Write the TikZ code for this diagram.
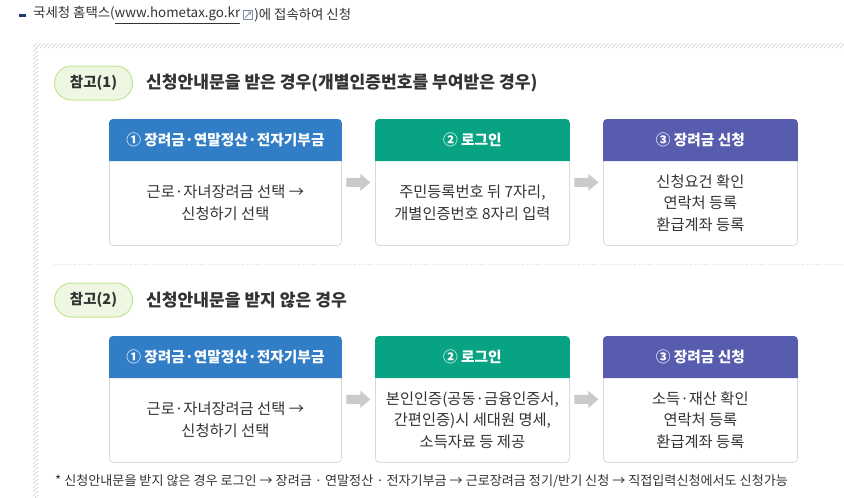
\documentclass[tikz,border=0pt]{standalone}
\usepackage{fontspec}
\setmainfont{Noto Sans CJK KR}
\usetikzlibrary{calc,arrows.meta}
\definecolor{hblue}{HTML}{317DC6}
\definecolor{hgreen}{HTML}{08A383}
\definecolor{hpurple}{HTML}{585CAF}
\definecolor{boxline}{HTML}{DADADA}
\definecolor{txt}{HTML}{333333}
\definecolor{pillfill}{HTML}{EEF7E2}
\definecolor{pillline}{HTML}{C2E592}
\definecolor{hatchc}{HTML}{CDCDD6}
\definecolor{arrowgray}{HTML}{CACACA}
\definecolor{navy}{HTML}{1F3A6E}
\definecolor{iconc}{HTML}{7A8AA8}
\tikzset{
  card/.style={draw=boxline, line width=0.8pt, rounded corners=4pt, fill=white,
    minimum height=126pt, inner sep=0pt, anchor=north west},
  hdrtext/.style={text=white, font=\bfseries\fontsize{14.7}{17}\selectfont, inner sep=0pt},
  bodytext/.style={text=txt, align=center, font=\fontsize{15.3}{21.5}\selectfont, inner sep=0pt},
  pill/.style={draw=pillline, fill=pillfill, line width=1pt, rounded corners=17pt,
    minimum width=78pt, minimum height=34pt, inner sep=0pt,
    font=\bfseries\fontsize{14.5}{17}\selectfont, text=txt},
  titletext/.style={anchor=west, text=txt, font=\bfseries\fontsize{17.1}{20}\selectfont, inner sep=0pt},
  topline/.style={anchor=west, inner sep=0pt, font=\fontsize{13.4}{15}\selectfont, text=txt},
}
\newcommand{\hdrfill}[2]{%
  \fill[#2] ([yshift=-42pt]#1.north west) [rounded corners=4pt] -- (#1.north west)
    -- (#1.north east) [sharp corners] -- ([yshift=-42pt]#1.north east) -- cycle;}
\newcommand{\grayarrow}[1]{%
  \fill[arrowgray] ([shift={(-12pt,4.5pt)}]#1) -- ([shift={(2pt,4.5pt)}]#1)
    -- ([shift={(2pt,8.5pt)}]#1) -- ([shift={(12pt,0pt)}]#1)
    -- ([shift={(2pt,-8.5pt)}]#1) -- ([shift={(2pt,-4.5pt)}]#1)
    -- ([shift={(-12pt,-4.5pt)}]#1) -- cycle;}
\begin{document}
\begin{tikzpicture}[x=1pt,y=-1pt]
\useasboundingbox[fill=white] (0,0) rectangle (844,498);

% top line
\fill[navy] (19,13.5) rectangle (26,16.5);
\node[topline] (top1) at (33,15) {국세청 홈택스(\underline{www.hometax.go.kr}};
\node[draw=iconc, line width=0.7pt, minimum size=9pt, inner sep=0pt, anchor=west] (icon) at ([xshift=2.5pt]top1.east) {};
\draw[iconc, line width=0.8pt, -{Straight Barb[length=2pt]}] ([shift={(2pt,2pt)}]icon.south west) -- ([shift={(-1.5pt,-1.5pt)}]icon.north east);
\node[topline] (top2) at ([xshift=1.5pt]icon.east) {)에 접속하여 신청};

% hatched frame
\begin{scope}
\clip (33,43) rectangle (844,48);
\foreach \x in {28,32,...,848} \draw[hatchc, line width=0.6pt] (\x,48) -- (\x+5,43);
\end{scope}
\begin{scope}
\clip (33,48) rectangle (38,498);
\foreach \y in {48,52,...,504} \draw[hatchc, line width=0.6pt] (33,\y) -- (38,\y-5);
\end{scope}

% ---------- section 1
\node[pill] (p1) at (93.5,83) {참고(1)};
\node[titletext] (t1) at (146,83) {신청안내문을 받은 경우(개별인증번호를 부여받은 경우)};

\node[card, minimum width=232pt] (a1) at (109,119) {};
\node[card, minimum width=194pt] (a2) at (375,119) {};
\node[card, minimum width=194pt] (a3) at (603,119) {};
\hdrfill{a1}{hblue}
\hdrfill{a2}{hgreen}
\hdrfill{a3}{hpurple}
\node[hdrtext] (ah1) at ([yshift=-21pt]a1.north) {① 장려금·연말정산·전자기부금};
\node[hdrtext] (ah2) at ([yshift=-21pt]a2.north) {② 로그인};
\node[hdrtext] (ah3) at ([yshift=-21pt]a3.north) {③ 장려금 신청};
\node[bodytext] (ab1) at ([yshift=-84pt]a1.north) {근로·자녀장려금 선택 →\\신청하기 선택};
\node[bodytext] (ab2) at ([yshift=-84pt]a2.north) {주민등록번호 뒤 7자리,\\개별인증번호 8자리 입력};
\node[bodytext] (ab3) at ([yshift=-84pt]a3.north) {신청요건 확인\\연락처 등록\\환급계좌 등록};
\coordinate (ar1) at ($(a1.east)!0.5!(a2.west)$);
\coordinate (ar2) at ($(a2.east)!0.5!(a3.west)$);
\grayarrow{ar1}
\grayarrow{ar2}

% separator
\draw[boxline, line width=0.8pt, dotted] (54,264) -- (844,264);

% ---------- section 2
\node[pill] (p2) at (93.5,300) {참고(2)};
\node[titletext] (t2) at (146,300) {신청안내문을 받지 않은 경우};

\node[card, minimum width=232pt] (b1) at (109,336) {};
\node[card, minimum width=194pt] (b2) at (375,336) {};
\node[card, minimum width=194pt] (b3) at (603,336) {};
\hdrfill{b1}{hblue}
\hdrfill{b2}{hgreen}
\hdrfill{b3}{hpurple}
\node[hdrtext] (bh1) at ([yshift=-21pt]b1.north) {① 장려금·연말정산·전자기부금};
\node[hdrtext] (bh2) at ([yshift=-21pt]b2.north) {② 로그인};
\node[hdrtext] (bh3) at ([yshift=-21pt]b3.north) {③ 장려금 신청};
\node[bodytext] (bb1) at ([yshift=-84pt]b1.north) {근로·자녀장려금 선택 →\\신청하기 선택};
\node[bodytext] (bb2) at ([yshift=-84pt]b2.north) {본인인증(공동·금융인증서,\\간편인증)시 세대원 명세,\\소득자료 등 제공};
\node[bodytext] (bb3) at ([yshift=-84pt]b3.north) {소득·재산 확인\\연락처 등록\\환급계좌 등록};
\coordinate (br1) at ($(b1.east)!0.5!(b2.west)$);
\coordinate (br2) at ($(b2.east)!0.5!(b3.west)$);
\grayarrow{br1}
\grayarrow{br2}

% footnote
\node[anchor=west, inner sep=0pt, font=\fontsize{13.1}{15}\selectfont, text=txt] (note) at (55,481)
  {* 신청안내문을 받지 않은 경우 로그인 → 장려금 · 연말정산 · 전자기부금 → 근로장려금 정기/반기 신청 → 직접입력신청에서도 신청가능};
\end{tikzpicture}
\end{document}
